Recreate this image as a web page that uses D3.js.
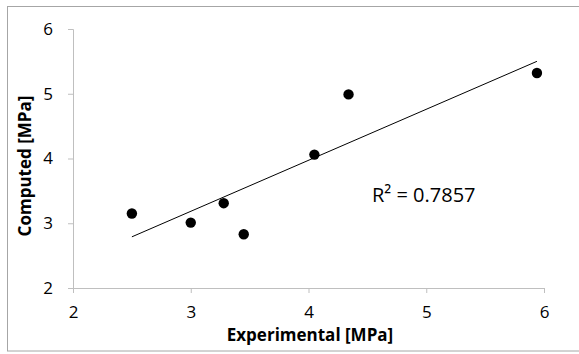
<!DOCTYPE html>
<html>
<head>
<meta charset="utf-8">
<script src="https://cdn.jsdelivr.net/npm/d3@7"></script>
<style>
  body { margin: 0; background: #fff; }
  svg text { font-family: "Open Sans", sans-serif; fill: #000; }
</style>
</head>
<body>
<div id="chart"></div>
<script>
// measured points (Experimental vs Computed, MPa)
var experimental = [2.5, 3.0, 3.28, 3.45, 4.05, 4.34, 5.94];
var computed = [3.15, 3.01, 3.31, 2.83, 4.06, 4.99, 5.32];
var xTicks = [2, 3, 4, 5, 6];
var yTicks = [2, 3, 4, 5, 6];
var rSquaredLabel = "R\u00b2 = 0.7857";

var width = 579, height = 354;
var margin = {top: 29, right: 35, bottom: 66, left: 73};

var svg = d3.select("#chart").append("svg")
    .attr("width", width)
    .attr("height", height);

// outer frame (right edge runs off the picture)
svg.append("rect")
    .attr("x", 7.5).attr("y", 6.5)
    .attr("width", 600).attr("height", 344.5)
    .attr("fill", "#fff")
    .attr("stroke", "#a6a6a6");

var x = d3.scaleLinear().domain([2, 6]).range([margin.left, width - margin.right]);
var y = d3.scaleLinear().domain([2, 6]).range([height - margin.bottom, margin.top]);

var xAxis = d3.axisBottom(x).tickValues(xTicks).tickSize(5).tickPadding(13).tickFormat(d3.format("d"));
var yAxis = d3.axisLeft(y).tickValues(yTicks).tickSize(5).tickPadding(15).tickFormat(d3.format("d"));

var gx = svg.append("g")
    .attr("transform", "translate(0," + y(2) + ")")
    .call(xAxis);
var gy = svg.append("g")
    .attr("transform", "translate(" + x(2) + ",0)")
    .call(yAxis);

[gx, gy].forEach(function(g) {
  g.selectAll("path, line").attr("stroke", "#bfbfbf");
  g.selectAll("text").style("font-size", "17px").attr("fill", "#000");
});

// linear trendline (least squares)
var mx = d3.mean(experimental), my = d3.mean(computed);
var sxy = d3.sum(experimental, function(d, i) { return (d - mx) * (computed[i] - my); });
var sxx = d3.sum(experimental, function(d) { return (d - mx) * (d - mx); });
var slope = sxy / sxx, icpt = my - slope * mx;
var xr = d3.extent(experimental);

svg.append("line")
    .attr("x1", x(xr[0])).attr("y1", y(icpt + slope * xr[0]))
    .attr("x2", x(xr[1])).attr("y2", y(icpt + slope * xr[1]))
    .attr("stroke", "#000")
    .attr("stroke-width", 1);

svg.selectAll(".dot")
    .data(experimental)
  .enter().append("circle")
    .attr("class", "dot")
    .attr("cx", function(d) { return x(d); })
    .attr("cy", function(d, i) { return y(computed[i]); })
    .attr("r", 5.2)
    .attr("fill", "#000");

svg.append("text")
    .attr("x", 372)
    .attr("y", 202)
    .style("font-size", "20px")
    .text(rSquaredLabel);

svg.append("text")
    .attr("x", 310)
    .attr("y", 341)
    .attr("text-anchor", "middle")
    .style("font-size", "17px")
    .style("font-weight", "bold")
    .text("Experimental [MPa]");

svg.append("text")
    .attr("transform", "translate(31,166) rotate(-90)")
    .attr("text-anchor", "middle")
    .style("font-size", "17px")
    .style("font-weight", "bold")
    .text("Computed [MPa]");
</script>
</body>
</html>
